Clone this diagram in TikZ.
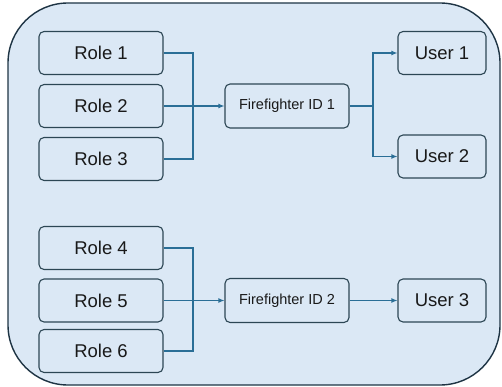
\documentclass[tikz,border=0pt]{standalone}
\usepackage{fontspec}
\setmainfont{Liberation Sans}
\usetikzlibrary{arrows.meta}
\definecolor{bgblue}{RGB}{219,232,245}
\definecolor{boxline}{RGB}{44,70,84}
\definecolor{outline}{RGB}{30,52,68}
\definecolor{conn}{RGB}{42,110,150}
\definecolor{txt}{RGB}{25,25,25}
\begin{document}
\begin{tikzpicture}[x=1pt,y=-1pt,
  outerbox/.style={draw=outline,line width=1.4pt,fill=bgblue},
  rolebox/.style={draw=boxline,line width=1.1pt,fill=bgblue,rounded corners=5pt,
    minimum width=124pt,minimum height=43pt,inner sep=0pt,text=txt,font=\fontsize{18.5}{20}\selectfont},
  userbox/.style={rolebox,minimum width=88pt},
  ffbox/.style={rolebox,minimum width=124pt,minimum height=44pt,font=\fontsize{14.5}{16}\selectfont},
  link/.style={draw=conn,line width=1.2pt},
  arr/.style={link,-{Latex[length=6pt,width=5pt]}}]
\useasboundingbox (0,0) rectangle (502,387);
\path[outerbox] (68,3) -- (440,3) arc[start angle=90,end angle=0,radius=60pt]
  -- (500,325) arc[start angle=0,end angle=-90,radius=60pt]
  -- (68,385) arc[start angle=270,end angle=180,radius=60pt]
  -- (8,63) arc[start angle=180,end angle=90,radius=60pt] -- cycle;
\node[rolebox] (r1) at (101,53) {Role 1};
\node[rolebox] (r2) at (101,106) {Role 2};
\node[rolebox] (r3) at (101,159) {Role 3};
\node[rolebox] (r4) at (101,248) {Role 4};
\node[rolebox] (r5) at (101,300.5) {Role 5};
\node[rolebox] (r6) at (101,351) {Role 6};
\node[ffbox] (f1) at (287,106) {Firefighter ID 1};
\node[ffbox] (f2) at (287,300.5) {Firefighter ID 2};
\node[userbox] (u1) at (442,53) {User 1};
\node[userbox] (u2) at (442,156.5) {User 2};
\node[userbox] (u3) at (442,300.5) {User 3};
\coordinate (j1) at (193,106);
\coordinate (j2) at (193,300.5);
\coordinate (k1) at (373,106);
\draw[link] (r1.east) -| (j1);
\draw[link] (r3.east) -| (j1);
\draw[arr] (r2.east) -- (f1.west);
\draw[link] (r4.east) -| (j2);
\draw[link] (r6.east) -| (j2);
\draw[arr] (r5.east) -- (f2.west);
\draw[link] (f1.east) -- (k1);
\draw[arr] (k1) |- (u1.west);
\draw[arr] (k1) |- (u2.west);
\draw[arr] (f2.east) -- (u3.west);
\end{tikzpicture}
\end{document}
